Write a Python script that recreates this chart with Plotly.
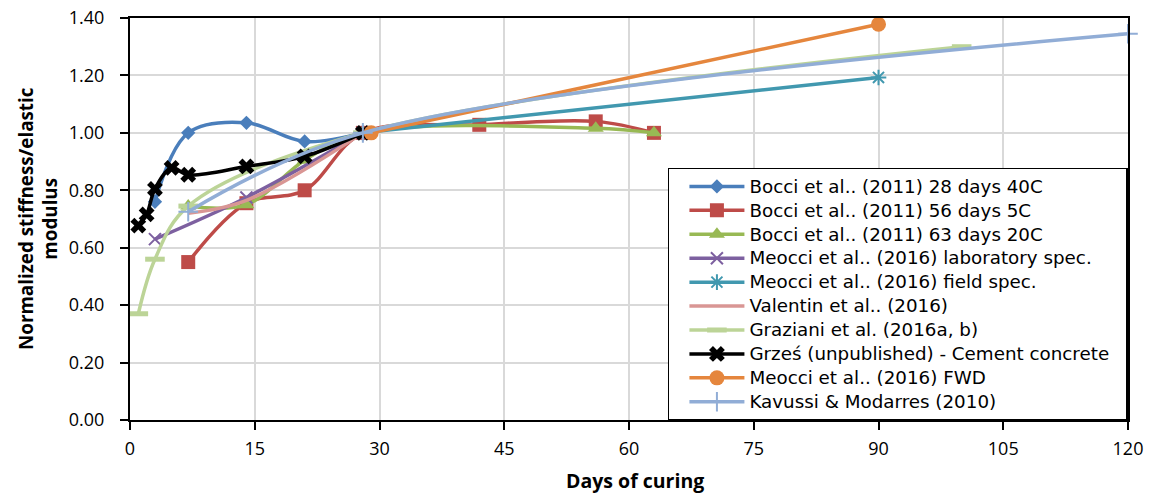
import plotly.graph_objects as go

# ---- data ----
bocci40_x = [3, 7, 14, 21, 28]
bocci40_y = [0.76, 1.00, 1.035, 0.97, 1.00]

bocci5_x = [7, 14, 21, 28, 42, 56, 63]
bocci5_y = [0.55, 0.755, 0.80, 1.00, 1.028, 1.04, 1.00]

bocci20_x = [7, 14, 21, 28, 56, 63]
bocci20_y = [0.745, 0.75, 0.905, 1.00, 1.016, 1.00]

meocci_lab_x = [3, 14, 28]
meocci_lab_y = [0.63, 0.775, 1.00]

meocci_field_x = [28, 90]
meocci_field_y = [1.00, 1.193]

valentin_x = [7, 14, 28]
valentin_y = [0.72, 0.765, 1.00]

graziani_x = [1, 3, 7, 28, 100]
graziani_y = [0.37, 0.56, 0.745, 1.00, 1.30]

grzes_x = [1, 2, 3, 5, 7, 14, 21, 28]
grzes_y = [0.677, 0.716, 0.805, 0.878, 0.854, 0.883, 0.918, 1.00]

meocci_fwd_x = [29, 90]
meocci_fwd_y = [1.00, 1.378]

kavussi_x = [7, 28, 120]
kavussi_y = [0.725, 1.00, 1.345]

x_ticks = [0, 15, 30, 45, 60, 75, 90, 105, 120]
y_ticks = [0.0, 0.2, 0.4, 0.6, 0.8, 1.0, 1.2, 1.4]

x_title = "Days of curing"
y_title = "Normalized stiffness/elastic<br>modulus"

series = [
    ("Bocci et al.. (2011) 28 days 40C", bocci40_x, bocci40_y, "#4A7EBB",
     dict(symbol="diamond", size=11, color="#4A7EBB")),
    ("Bocci et al.. (2011) 56 days 5C", bocci5_x, bocci5_y, "#BE4B48",
     dict(symbol="square", size=14, color="#BE4B48")),
    ("Bocci et al.. (2011) 63 days 20C", bocci20_x, bocci20_y, "#98B954",
     dict(symbol="triangle-up", size=14, color="#98B954")),
    ("Meocci et al.. (2016) laboratory spec.", meocci_lab_x, meocci_lab_y, "#7D60A0",
     dict(symbol="x-thin", size=12, color="#7D60A0", line=dict(color="#7D60A0", width=2))),
    ("Meocci et al.. (2016) field spec.", meocci_field_x, meocci_field_y, "#4198AF",
     dict(symbol="asterisk", size=13, color="#4198AF", line=dict(color="#4198AF", width=2))),
    ("Valentin et al.. (2016)", valentin_x, valentin_y, "#D99694", None),
    ("Graziani et al. (2016a, b)", graziani_x, graziani_y, "#BCD497",
     dict(symbol="line-ew", size=14, color="#BCD497", line=dict(color="#BCD497", width=5))),
    ("Grześ (unpublished) - Cement concrete", grzes_x, grzes_y, "#000000",
     dict(symbol="x", size=14, color="#000000")),
    ("Meocci et al.. (2016) FWD", meocci_fwd_x, meocci_fwd_y, "#E5863D",
     dict(symbol="circle", size=15, color="#E5863D")),
    ("Kavussi & Modarres (2010)", kavussi_x, kavussi_y, "#91ADD6",
     dict(symbol="cross-thin", size=14, color="#91ADD6", line=dict(color="#91ADD6", width=2))),
]

fig = go.Figure()
for name, xs, ys, col, mk in series:
    kw = dict(x=xs, y=ys,
              name='<span style="font-size:18.3px">' + name + '\u00a0\u00a0</span>',
              line=dict(color=col, width=3.5, shape="spline", smoothing=1.0),
              cliponaxis=False)
    if mk is None:
        kw["mode"] = "lines"
    else:
        kw["mode"] = "lines+markers"
        kw["marker"] = mk
    fig.add_trace(go.Scatter(**kw))

axis_common = dict(
    showgrid=True, gridcolor="#D9D9D9", gridwidth=1.5,
    showline=True, linecolor="black", linewidth=2, mirror=True,
    ticks="outside", ticklen=8, tickwidth=2, tickcolor="black",
    zeroline=False, automargin=False, ticklabeloverflow="allow",
    tickfont=dict(family="Open Sans", size=18, color="black"),
)

fig.update_layout(
    width=1153, height=493,
    margin=dict(l=130, r=25, t=18, b=73, autoexpand=False),
    plot_bgcolor="white", paper_bgcolor="white",
    font=dict(family="Open Sans", size=17, color="black"),
    xaxis=dict(range=[0, 120], tickvals=x_ticks, ticklabelstandoff=3, **axis_common),
    yaxis=dict(range=[0, 1.4], tickvals=y_ticks, tickformat=".2f", ticklabelstandoff=12,
               **axis_common),
    legend=dict(x=0.539, y=0.627, xanchor="left", yanchor="top",
                bgcolor="white", bordercolor="black", borderwidth=1.5,
                font=dict(family="DejaVu Sans", size=16.1, color="black"),
                itemwidth=55, indentation=15, tracegroupgap=0),
    showlegend=True,
    annotations=[
        dict(text=x_title, xref="paper", yref="paper", x=0.5, y=0,
             xanchor="center", yanchor="middle", yshift=-60, xshift=6, showarrow=False,
             font=dict(family="Open Sans", size=19.5, weight="bold", color="black")),
        dict(text=y_title, xref="paper", yref="paper", x=0, y=0.5,
             xanchor="center", yanchor="middle", xshift=-92, textangle=-90, showarrow=False,
             font=dict(family="Open Sans", size=18.8, weight="bold", color="black")),
    ],
)

# remove the default 8px page margin so the figure fills the window exactly
fig.write_html("out.html", config={"displayModeBar": False},
               post_script="document.body.style.margin='0';")
